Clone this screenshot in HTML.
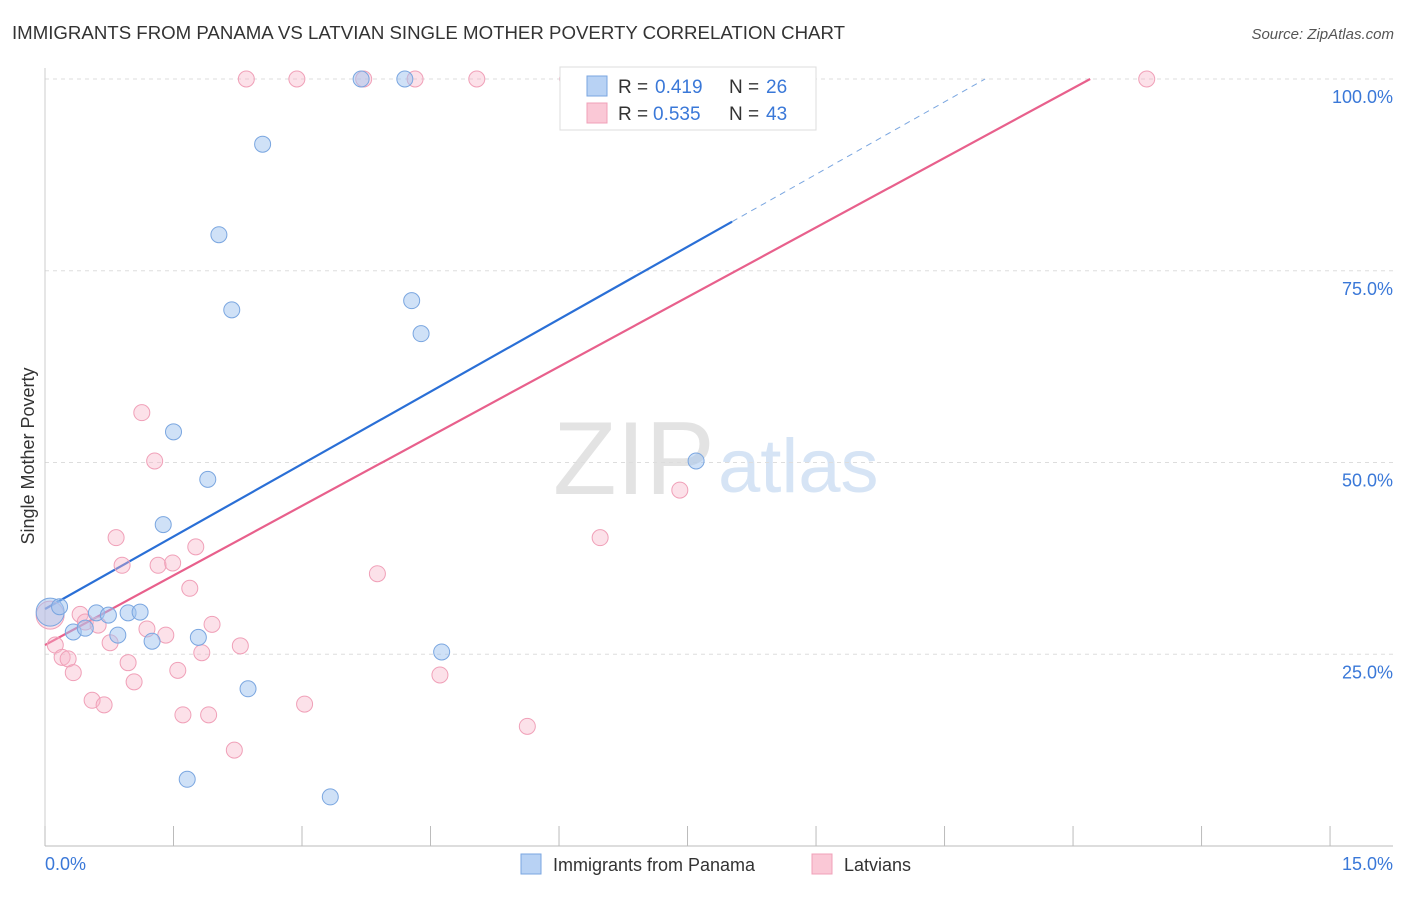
<!DOCTYPE html>
<html><head><meta charset="utf-8"><style>
body{margin:0;background:#fff;font-family:"Liberation Sans",sans-serif;}
svg text{font-family:"Liberation Sans",sans-serif;}
</style></head><body>
<svg id="chart" width="1406" height="892">
<text x="12" y="39" font-size="18" fill="#333" textLength="833" lengthAdjust="spacingAndGlyphs">IMMIGRANTS FROM PANAMA VS LATVIAN SINGLE MOTHER POVERTY CORRELATION CHART</text>
<text x="1394" y="39" font-size="15" fill="#555" text-anchor="end" font-style="italic">Source: ZipAtlas.com</text>
<g><text x="553" y="494" font-size="104" fill="#e3e3e3" font-family="Liberation Serif,serif">ZIP</text><text x="718" y="492" font-size="76" fill="#d6e4f5">atlas</text></g>
<g id="grid"></g><g id="axes"></g><g id="lines"></g><g id="pts"></g>
<text transform="translate(34,456) rotate(-90)" font-size="18" fill="#333" text-anchor="middle">Single Mother Poverty</text>
<g>
<rect x="560" y="67" width="256" height="63" fill="#fff" stroke="#ddd"/>
<rect x="587" y="76" width="20" height="20" fill="#b8d2f4" stroke="#7aa6e0"/>
<rect x="587" y="103" width="20" height="20" fill="#fac8d6" stroke="#f0a0b8"/>
<text x="618" y="93" font-size="19" fill="#333">R = </text><text x="655" y="93" font-size="19" fill="#3a78d8">0.419</text>
<text x="729" y="93" font-size="19" fill="#333">N = </text><text x="766" y="93" font-size="19" fill="#3a78d8">26</text>
<text x="618" y="120" font-size="19" fill="#333">R = </text><text x="653" y="120" font-size="19" fill="#3a78d8">0.535</text>
<text x="729" y="120" font-size="19" fill="#333">N = </text><text x="766" y="120" font-size="19" fill="#3a78d8">43</text>
</g>
<g>
<rect x="521" y="854" width="20" height="20" fill="#b8d2f4" stroke="#7aa6e0"/>
<text x="553" y="871" font-size="18" fill="#333">Immigrants from Panama</text>
<rect x="812" y="854" width="20" height="20" fill="#fac8d6" stroke="#f0a0b8"/>
<text x="844" y="871" font-size="18" fill="#333">Latvians</text>
</g>
</svg>
<script>
const yTicks=[25,50,75,100];
const yTickLabels=["25.0%","50.0%","75.0%","100.0%"];
const xTickCount=10;
const panamaX=[0.06,0.17,0.33,0.47,0.60,0.74,0.97,1.11,0.85,1.25,1.38,1.50,1.66,1.90,1.79,2.03,2.18,2.37,2.54,3.33,3.69,4.20,4.28,4.39,4.63,7.60];
const panamaY=[30.5,31.2,27.9,28.4,30.4,30.1,30.4,30.5,27.5,26.7,41.9,54.0,8.7,47.8,27.2,79.7,69.9,20.5,91.5,6.4,100,100,71.1,66.8,25.3,50.2];
const latviaX=[0.06,0.12,0.20,0.27,0.33,0.41,0.47,0.55,0.62,0.69,0.76,0.83,0.90,0.97,1.04,1.13,1.19,1.28,1.32,1.41,1.49,1.55,1.61,1.69,1.76,1.83,1.91,1.95,2.21,2.28,2.35,2.94,3.03,3.72,3.88,4.32,4.61,5.04,5.63,6.10,6.48,7.41,12.86];
const latviaY=[30.1,26.2,24.6,24.4,22.6,30.2,29.2,19.0,28.8,18.4,26.5,40.2,36.6,23.9,21.4,56.5,28.3,50.2,36.6,27.5,36.9,22.9,17.1,33.6,39.0,25.2,17.1,28.9,12.5,26.1,100,100,18.5,100,35.5,100,22.3,100,15.6,100,40.2,46.4,100];
const panamaTrend=[30.9,81.4,8.02];
const latviaTrend=[26.2,100,12.2];
const NS="http://www.w3.org/2000/svg";
const sx=v=>45+v*85.67, sy=v=>846-v*7.67;
function mk(tag,attrs,parent){const e=document.createElementNS(NS,tag);for(const k in attrs)e.setAttribute(k,attrs[k]);document.getElementById(parent).appendChild(e);return e;}
yTicks.forEach((t,i)=>{
 const g=mk('line',{x1:45,x2:1393,y1:sy(t),y2:sy(t),stroke:'#ddd','stroke-dasharray':'4,4'},'grid');
 
 
 const tx=mk('text',{x:1393,y:sy(t)+24,'font-size':18,fill:'#3a78d8','text-anchor':'end'},'axes');
 tx.textContent=yTickLabels[i];
 
 
});
const ax=mk('line',{x1:45,x2:1393,y1:846,y2:846,stroke:'#bbb'},'axes');


const ay=mk('line',{x1:45,x2:45,y1:68,y2:846,stroke:'#ccc'},'axes');


for(let i=0;i<=xTickCount;i++){
 const t=mk('line',{x1:sx(i*1.5),x2:sx(i*1.5),y1:826,y2:846,stroke:'#bbb'},'axes');
 
 
}
const x0=mk('text',{x:45,y:870,'font-size':18,fill:'#3a78d8'},'axes');x0.textContent='0.0%';


const x1=mk('text',{x:1393,y:870,'font-size':18,fill:'#3a78d8','text-anchor':'end'},'axes');x1.textContent='15.0%';


function pts(X,Y,fill,stroke,name){X.forEach((x,i)=>{const c=mk('circle',{cx:sx(x),cy:sy(Y[i]),r:i===0?14:8,fill:fill,stroke:stroke,'stroke-width':1},'pts');
 
 });}
pts(latviaX,latviaY,'rgba(248,180,200,0.4)','#f0a0b8','latvians-point');
pts(panamaX,panamaY,'rgba(160,196,240,0.5)','#7aa6e0','panama-point');
const bs=(panamaTrend[1]-panamaTrend[0])/panamaTrend[2];
const bl=mk('line',{x1:sx(0),y1:sy(panamaTrend[0]),x2:sx(panamaTrend[2]),y2:sy(panamaTrend[1]),stroke:'#2a6fd6','stroke-width':2.2},'lines');


const bxe=(100-panamaTrend[0])/bs;
const bd=mk('line',{x1:sx(panamaTrend[2]),y1:sy(panamaTrend[1]),x2:sx(bxe),y2:sy(100),stroke:'#7aa6e0','stroke-width':1,'stroke-dasharray':'6,5'},'lines');


const pl=mk('line',{x1:sx(0),y1:sy(latviaTrend[0]),x2:sx(latviaTrend[2]),y2:sy(latviaTrend[1]),stroke:'#e8608c','stroke-width':2.2},'lines');


</script>
</body></html>
